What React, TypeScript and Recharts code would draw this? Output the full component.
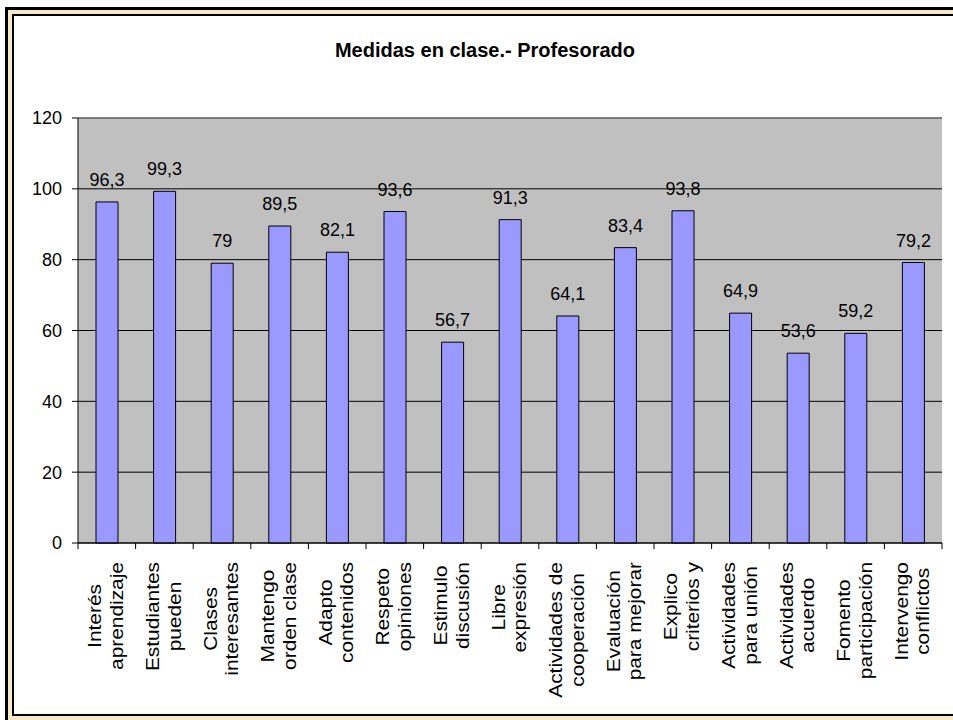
import { BarChart, Bar, XAxis, YAxis, CartesianGrid, LabelList, ReferenceLine } from "recharts";

const categories = [
  "Interés\naprendizaje",
  "Estudiantes\npueden",
  "Clases\ninteresantes",
  "Mantengo\norden clase",
  "Adapto\ncontenidos",
  "Respeto\nopiniones",
  "Estimulo\ndiscusión",
  "Libre\nexpresión",
  "Actividades de\ncooperación",
  "Evaluación\npara mejorar",
  "Explico\ncriterios y",
  "Actividades\npara unión",
  "Actividades\nacuerdo",
  "Fomento\nparticipación",
  "Intervengo\nconflictos",
];

const values = [96.3, 99.3, 79, 89.5, 82.1, 93.6, 56.7, 91.3, 64.1, 83.4, 93.8, 64.9, 53.6, 59.2, 79.2];

const yTicks = [0, 20, 40, 60, 80, 100, 120];

const data = categories.map((name, i) => ({ name, value: values[i] }));

const WIDTH = 953;
const HEIGHT = 720;
const MARGIN = { top: 118, right: 11, bottom: 0, left: 0 };
const Y_AXIS_W = 78;
const BAND = (WIDTH - MARGIN.left - MARGIN.right - Y_AXIS_W) / categories.length;
const FONT = "'Liberation Sans', Arial, sans-serif";
const STRETCH = 1.16;

let ctx: CanvasRenderingContext2D | null = null;
function measure(s: string) {
  if (!ctx) ctx = document.createElement("canvas").getContext("2d");
  if (!ctx) return s.length * 9;
  ctx.font = `18px ${FONT}`;
  return ctx.measureText(s).width;
}

function CategoryTick(props: any) {
  const { x, y, payload, index } = props;
  const lines = String(payload.value).split("\n");
  const longest = Math.max(...lines.map(measure));
  const half = BAND / 2;
  return (
    <g>
      <line x1={x - half} x2={x - half} y1={y} y2={y + 6} stroke="#000" />
      {index === categories.length - 1 && (
        <line x1={x + half} x2={x + half} y1={y} y2={y + 6} stroke="#000" />
      )}
      <g transform={`translate(${x},${y + 19}) rotate(-90) scale(${STRETCH},1)`}>
        <text textAnchor="middle" fontSize={18} fill="#000" fontFamily={FONT}>
          {lines.map((l, i) => (
            <tspan key={i} x={-longest / 2} y={-5.5 + i * 21.6}>
              {l}
            </tspan>
          ))}
        </text>
      </g>
    </g>
  );
}

export default function App() {
  return (
    <div
      style={{
        position: "absolute",
        left: 0,
        top: 0,
        width: WIDTH,
        height: HEIGHT,
        overflow: "hidden",
        fontFamily: FONT,
        background: "#fff",
      }}
    >
      {/* frame: left/top/bottom edges only, the right side runs off the page */}
      <div
        style={{
          position: "absolute",
          left: 5,
          top: 7,
          width: WIDTH - 8,
          height: HEIGHT - 10,
          borderLeft: "3px solid #000",
          borderTop: "3px solid #000",
          background: "#F7E7CB",
        }}
      />
      <div
        style={{
          position: "absolute",
          left: 12,
          top: 14,
          width: WIDTH - 8,
          height: 702,
          boxSizing: "border-box",
          border: "2px solid #000",
          background: "#fff",
        }}
      />
      <div
        style={{
          position: "absolute",
          left: 0,
          top: 40,
          width: 970,
          textAlign: "center",
          fontSize: 20,
          lineHeight: "20px",
          fontWeight: "bold",
          color: "#000",
        }}
      >
        Medidas en clase.- Profesorado
      </div>
      <div style={{ position: "absolute", left: 0, top: 0 }}>
        <BarChart width={WIDTH} height={HEIGHT} data={data} margin={MARGIN} barSize={22}>
          <CartesianGrid vertical={false} fill="#C0C0C0" fillOpacity={1} stroke="#000" />
          <XAxis
            dataKey="name"
            height={HEIGHT - 543}
            interval={0}
            tickLine={false}
            tickSize={0}
            tickMargin={0}
            axisLine={{ stroke: "#000" }}
            tick={<CategoryTick />}
          />
          <YAxis
            width={Y_AXIS_W}
            domain={[0, 120]}
            ticks={yTicks}
            interval={0}
            tickSize={6}
            tickMargin={10}
            axisLine={{ stroke: "#000" }}
            tickLine={{ stroke: "#000" }}
            tick={{ fill: "#000", fontSize: 18, fontFamily: FONT }}
          />
          <YAxis
            yAxisId="r"
            orientation="right"
            width={0}
            domain={[0, 120]}
            ticks={yTicks}
            tick={false}
            tickLine={false}
            axisLine={{ stroke: "#808080", strokeWidth: 1.5 }}
          />
          <ReferenceLine y={120} stroke="#808080" strokeWidth={1.5} />
          <Bar dataKey="value" fill="#9999FF" stroke="#000" strokeWidth={1} isAnimationActive={false}>
            <LabelList
              dataKey="value"
              position="top"
              offset={16}
              fill="#000"
              fontSize={18}
              fontFamily={FONT}
              formatter={(v: any) => String(v).replace(".", ",")}
            />
          </Bar>
        </BarChart>
      </div>
    </div>
  );
}
